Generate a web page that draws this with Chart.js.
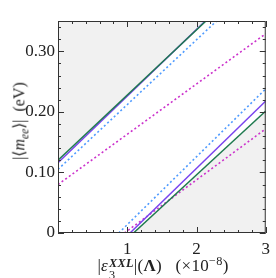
<!DOCTYPE html>
<html>
<head>
    <title>m_ee vs epsilon</title>
    <script src="https://cdn.jsdelivr.net/npm/chart.js"></script>
    <style>
        body { margin: 0; background: #fff; }
        #wrap { position: relative; width: 276px; height: 278px; }
        .lbl { position: absolute; font-family: 'Liberation Serif', serif; font-size: 16px; color: #222; white-space: nowrap; }
        #ylab { left: 20px; top: 121px; transform: translate(-50%, -50%) rotate(-90deg); }
        #xlab { left: 163px; top: 267px; transform: translate(-50%, -50%); font-size: 17px; letter-spacing: 0.3px; }
        .stack { display: inline-flex; flex-direction: column; align-items: flex-start; vertical-align: 0.42em; font-size: 0.72em; line-height: 1.0; margin-left: 1px; }
        sup { font-size: 0.72em; }
    </style>
</head>
<body>
<div id="wrap">
    <canvas id="mee" width="276" height="278"></canvas>
    <div class="lbl" id="ylab">|&#10216;<i>m</i><sub style="font-size:0.72em"><i>ee</i></sub>&#10217;| &nbsp;(eV)</div>
    <div class="lbl" id="xlab">|<i>&epsilon;</i><span class="stack"><b><i>XXL</i></b><span>3</span></span>|(<b>&Lambda;</b>) &nbsp;&nbsp;(&times;10<sup>&minus;8</sup>)</div>
</div>
<script>
// values (x in units of 1e-8, y in eV)
const upperX = [0, 3];
const upperGreen = [0.120, 0.443];
const upperPurple = [0.116, 0.446];
const upperBlue = [0.105, 0.426];
const upperMagenta = [0.080, 0.329];

const lowerGreenX = [1.09, 3];
const lowerGreen = [0, 0.2015];
const lowerPurpleX = [1.04, 3];
const lowerPurple = [0, 0.218];
const lowerBlueX = [0.877, 3];
const lowerBlue = [0, 0.238];
const lowerMagentaX = [0.96, 3];
const lowerMagenta = [0, 0.172];

const xTickVals = [1, 2, 3];
const xTickLabels = ['1', '2', '3'];
const yTickVals = [0, 0.1, 0.2, 0.3];
const yTickLabels = ['0', '0.10', '0.20', '0.30'];

const GREEN = '#1f7a4f', PURPLE = '#7a44ee', BLUE = '#4f9bff', MAGENTA = '#cc33cc', SHADE = '#f1f1f1';

function pts(xs, ys) { return xs.map((x, i) => ({ x: x, y: ys[i] })); }

function line(label, xs, ys, color, dashed, fill) {
    return {
        label: label,
        data: pts(xs, ys),
        showLine: true,
        borderColor: color,
        borderWidth: dashed ? 1.6 : 1.5,
        borderDash: dashed ? [2, 2.5] : [],
        pointRadius: 0,
        fill: fill || false,
        backgroundColor: SHADE
    };
}

// frame and inward tick marks on all four sides
const framePlugin = {
    id: 'frame',
    afterDraw(chart) {
        const ctx = chart.ctx, a = chart.chartArea;
        const xs = chart.scales.x, ys = chart.scales.y;
        ctx.save();
        ctx.strokeStyle = '#333';
        ctx.lineWidth = 1;
        ctx.strokeRect(a.left + 0.5, a.top + 0.5, a.right - a.left - 1, a.bottom - a.top - 1);
        ctx.beginPath();
        for (let i = 0; i <= 15; i++) {
            const v = i * 0.2;
            const len = (i % 5 === 0) ? 6 : 3;
            const px = Math.round(xs.getPixelForValue(v)) + 0.5;
            ctx.moveTo(px, a.bottom); ctx.lineTo(px, a.bottom - len);
            ctx.moveTo(px, a.top); ctx.lineTo(px, a.top + len);
        }
        for (let i = 0; i <= 17; i++) {
            const v = i * 0.02;
            const len = (i % 5 === 0) ? 6 : 3;
            const py = Math.round(ys.getPixelForValue(v)) + 0.5;
            ctx.moveTo(a.left, py); ctx.lineTo(a.left + len, py);
            ctx.moveTo(a.right, py); ctx.lineTo(a.right - len, py);
        }
        ctx.stroke();
        ctx.restore();
    }
};

const tickFont = { family: 'Liberation Serif', size: 17 };

// Chart.js paints dataset 0 last, so green comes first to sit on top
new Chart(document.getElementById('mee'), {
    type: 'scatter',
    data: {
        datasets: [
            line('upper green', upperX, upperGreen, GREEN, false, 'end'),
            line('lower green', lowerGreenX, lowerGreen, GREEN, false, 'start'),
            line('upper purple', upperX, upperPurple, PURPLE, false),
            line('lower purple', lowerPurpleX, lowerPurple, PURPLE, false),
            line('upper blue', upperX, upperBlue, BLUE, true),
            line('lower blue', lowerBlueX, lowerBlue, BLUE, true),
            line('upper magenta', upperX, upperMagenta, MAGENTA, true),
            line('lower magenta', lowerMagentaX, lowerMagenta, MAGENTA, true)
        ]
    },
    options: {
        responsive: false,
        animation: false,
        layout: { padding: { top: 21, right: 6, left: 0, bottom: 0 } },
        plugins: {
            legend: { display: false },
            tooltip: { enabled: false },
            filler: { drawTime: 'beforeDatasetsDraw' }
        },
        scales: {
            x: {
                min: 0, max: 3,
                grid: { display: false, drawTicks: false },
                border: { display: false },
                afterFit(s) { s.height = 45; },
                afterBuildTicks(s) { s.ticks = xTickVals.map(v => ({ value: v })); },
                ticks: {
                    font: tickFont, color: '#222', padding: 6, maxRotation: 0, autoSkip: false,
                    callback: (v) => xTickLabels[xTickVals.indexOf(v)]
                }
            },
            y: {
                min: 0, max: 0.35,
                grid: { display: false, drawTicks: false },
                border: { display: false },
                afterFit(s) { s.width = 58; },
                afterBuildTicks(s) { s.ticks = yTickVals.map(v => ({ value: v })); },
                ticks: {
                    font: tickFont, color: '#222', padding: 3, autoSkip: false,
                    callback: (v) => yTickLabels[yTickVals.indexOf(v)]
                }
            }
        }
    },
    plugins: [framePlugin]
});
</script>
</body>
</html>
